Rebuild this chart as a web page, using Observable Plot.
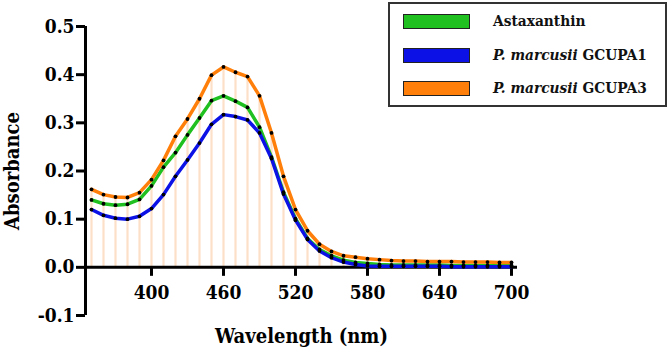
<!DOCTYPE html>
<html>
<head>
<meta charset="utf-8">
<script src="https://cdn.jsdelivr.net/npm/d3@7"></script>
<script src="https://cdn.jsdelivr.net/npm/@observablehq/plot@0.6"></script>
<style>
  html, body { margin: 0; padding: 0; background: #fff; }
  #wrap { position: relative; width: 670px; height: 354px; font-family: 'DejaVu Serif'; font-stretch: condensed; }
  #legend { position: absolute; left: 388px; top: 2px; width: 275px; height: 101px; border: 2px solid #333; background: #fff; box-sizing: content-box; }
  .row { position: absolute; left: 13px; height: 17px; display: flex; align-items: center; }
  .sw { width: 67px; height: 15px; border: 1px solid #222; box-sizing: border-box; }
  .lab { position: absolute; left: 90px; white-space: nowrap; font-family: 'DejaVu Serif'; font-stretch: condensed; font-weight: bold; font-size: 15.3px; color: #111; line-height: 17px; }
  svg text { font-family: 'DejaVu Serif'; font-stretch: condensed; }
</style>
</head>
<body>
<div id="wrap"><div id="chart"></div><div id="legend"></div></div>
<script>
const wavelength = [350,360,370,380,390,400,410,420,430,440,450,460,470,480,490,500,510,520,530,540,550,560,570,580,590,600,610,620,630,640,650,660,670,680,690,700];
const astaxanthin = [0.140,0.132,0.129,0.131,0.141,0.169,0.208,0.238,0.275,0.310,0.346,0.356,0.345,0.332,0.291,0.229,0.156,0.101,0.060,0.037,0.024,0.015,0.010,0.008,0.006,0.005,0.005,0.005,0.005,0.005,0.004,0.004,0.004,0.004,0.004,0.004];
const gcupa1 = [0.120,0.108,0.102,0.100,0.106,0.122,0.151,0.189,0.223,0.258,0.297,0.317,0.313,0.306,0.279,0.226,0.152,0.098,0.058,0.034,0.020,0.011,0.006,0.003,0.002,0.002,0.002,0.002,0.002,0.002,0.001,0.001,0.001,0.001,0.001,0.001];
const gcupa3 = [0.162,0.151,0.146,0.145,0.155,0.182,0.222,0.272,0.308,0.350,0.399,0.416,0.405,0.396,0.356,0.279,0.189,0.120,0.076,0.048,0.033,0.024,0.021,0.018,0.016,0.014,0.013,0.013,0.012,0.012,0.012,0.011,0.011,0.011,0.010,0.010];
const seriesNames = ["Astaxanthin", "P. marcusii GCUPA1", "P. marcusii GCUPA3"];
const seriesColors = ["#1fc01f", "#0c12e6", "#ff7f0a"];
const xTicks = [400,460,520,580,640,700];
const yTicks = [-0.1,0.0,0.1,0.2,0.3,0.4,0.5];
const xDomain = [345, 705];
const yDomain = [-0.1, 0.5];
const xTitle = "Wavelength (nm)";
const yTitle = "Absorbance";

const seriesValues = [astaxanthin, gcupa1, gcupa3];
const rows = [];
seriesValues.forEach((vals, s) => vals.forEach((v, i) => rows.push({wl: wavelength[i], v, s: seriesNames[s]})));
const drop = wavelength.map((w, i) => ({wl: w, top: gcupa3[i]}));

const font = "DejaVu Serif";
const chart = Plot.plot({
  width: 670, height: 354,
  marginLeft: 85, marginRight: 153, marginTop: 26, marginBottom: 39,
  style: {fontFamily: font, fontWeight: "bold", color: "#000", background: "#fff"},
  x: {domain: xDomain},
  y: {domain: yDomain},
  color: {domain: seriesNames, range: seriesColors},
  marks: [
    Plot.ruleX(drop, {x: "wl", y1: 0, y2: "top", stroke: "#fde0c8", strokeWidth: 2.2}),
    Plot.axisY({ticks: yTicks, tickSize: 9, tickPadding: 2, strokeWidth: 3, fontSize: 19, fontWeight: "bold", fontFamily: font, tickFormat: d => d.toFixed(1), label: null}),
    Plot.axisX({ticks: [], label: null}),
    Plot.ruleX([xDomain[0]], {y1: yDomain[0], y2: yDomain[1], stroke: "#000", strokeWidth: 3}),
    Plot.ruleY([0], {x1: xDomain[0], x2: xDomain[1], stroke: "#000", strokeWidth: 3}),
    Plot.ruleX(xTicks, {x: d => d, y1: 0, y2: 0, insetBottom: -9, stroke: "#000", strokeWidth: 3}),
    Plot.text(xTicks, {x: d => d, y: 0, dy: 26, text: d => String(d), fontSize: 19, fontWeight: "bold", fontFamily: font, lineAnchor: "middle", fill: "#000"}),
    Plot.line(rows, {x: "wl", y: "v", z: "s", stroke: "s", strokeWidth: 3.5}),
    Plot.dot(rows, {x: "wl", y: "v", r: 1.9, fill: "#000"}),
    Plot.text([yTitle], {frameAnchor: "left", dx: -73, rotate: -90, textAnchor: "middle", fontSize: 20, fontWeight: "bold", fontFamily: font, fill: "#000", lineAnchor: "middle"}),
    Plot.text([xTitle], {frameAnchor: "bottom", dy: 21, textAnchor: "middle", fontSize: 20, fontWeight: "bold", fontFamily: font, fill: "#000", lineAnchor: "middle"})
  ]
});
document.getElementById("chart").appendChild(chart);

const legend = document.getElementById("legend");
const tops = [9, 43, 76];
seriesNames.forEach((name, i) => {
  const row = document.createElement("div");
  row.className = "row";
  row.style.top = tops[i] + "px";
  const sw = document.createElement("div");
  sw.className = "sw";
  sw.style.background = seriesColors[i];
  row.appendChild(sw);
  const lab = document.createElement("div");
  lab.className = "lab";
  if (name.startsWith("P. marcusii")) {
    lab.innerHTML = "<i>P. marcusii</i>" + name.slice("P. marcusii".length);
  } else {
    lab.textContent = name;
  }
  row.appendChild(lab);
  legend.appendChild(row);
});
</script>
</body>
</html>
